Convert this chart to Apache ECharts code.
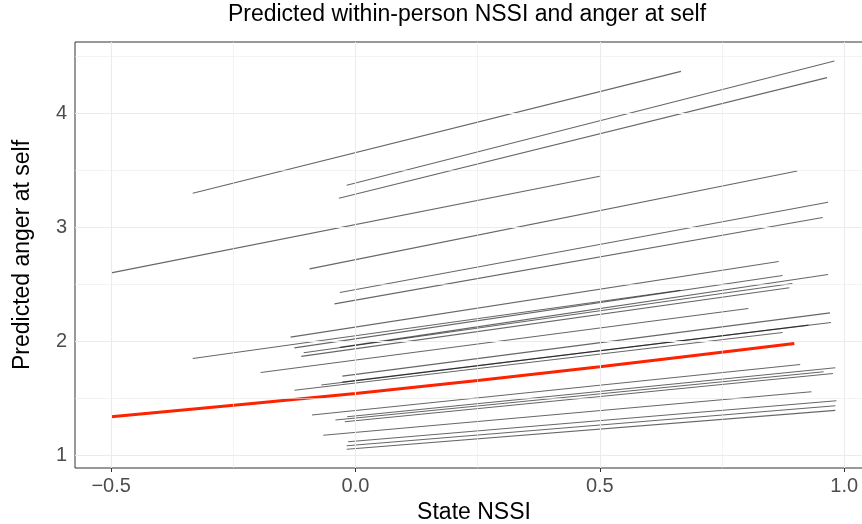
<!DOCTYPE html>
<html>
<head>
<meta charset="utf-8">
<script src="https://cdn.jsdelivr.net/npm/echarts@6/dist/echarts.min.js"></script>
<style>html,body{margin:0;padding:0;background:#fff;}#c{width:862px;height:524px;}</style>
</head>
<body>
<div id="c"></div>
<script>
// Individual (within-person) predicted lines: start and end points
const startX = [-0.333, -0.018, -0.034, -0.5, -0.094, -0.032, -0.043, -0.133, -0.333, -0.125, -0.106, -0.111, -0.032, -0.194, -0.027, -0.125, -0.070, -0.027, -0.089, -0.041, -0.017, -0.022, -0.066, -0.015, -0.018, -0.018];
const startY = [3.298, 3.368, 3.254, 2.599, 2.634, 2.427, 2.327, 2.035, 1.848, 1.941, 1.898, 1.866, 1.945, 1.725, 1.693, 1.568, 1.614, 1.640, 1.351, 1.307, 1.336, 1.292, 1.173, 1.117, 1.082, 1.050];
const endX   = [0.666, 0.980, 0.965, 0.500, 0.904, 0.967, 0.956, 0.866, 0.665, 0.874, 0.894, 0.888, 0.967, 0.804, 0.971, 0.874, 0.927, 0.973, 0.910, 0.958, 0.982, 0.977, 0.933, 0.984, 0.982, 0.982];
const endY   = [4.368, 4.459, 4.313, 3.447, 3.494, 3.219, 3.085, 2.699, 2.447, 2.576, 2.506, 2.468, 2.585, 2.287, 2.248, 2.076, 2.140, 2.164, 1.795, 1.731, 1.766, 1.716, 1.556, 1.477, 1.433, 1.392];
// Average (fixed-effect) predicted line
const redX = [-0.5, 0.0, 0.5, 0.898];
const redY = [1.336, 1.54, 1.775, 1.98];
// Axis ticks
const xTicks = [-0.5, 0.0, 0.5, 1.0];
const xMinor = [-0.25, 0.25, 0.75];
const yTicks = [1, 2, 3, 4];
const yMinor = [1.5, 2.5, 3.5, 4.5];

const chart = echarts.init(document.getElementById('c'), null, {renderer: 'canvas'});
const FONT = 'Liberation Sans, Arial, sans-serif';

const gridMarks = [];
xTicks.forEach(v => gridMarks.push({xAxis: v, lineStyle: {color: '#EBEBEB', width: 1.1, type: 'solid'}}));
xMinor.forEach(v => gridMarks.push({xAxis: v, lineStyle: {color: '#EBEBEB', width: 0.6, type: 'solid'}}));
yTicks.forEach(v => gridMarks.push({yAxis: v, lineStyle: {color: '#EBEBEB', width: 1.1, type: 'solid'}}));
yMinor.forEach(v => gridMarks.push({yAxis: v, lineStyle: {color: '#EBEBEB', width: 0.6, type: 'solid'}}));

const series = [{
  type: 'line', data: [], z: 1, silent: true,
  markLine: {silent: true, symbol: 'none', label: {show: false}, animation: false, data: gridMarks}
}];
for (let i = 0; i < startX.length; i++) {
  series.push({
    type: 'line', z: 2, silent: true, symbol: 'none', animation: false,
    data: [[startX[i], startY[i]], [endX[i], endY[i]]],
    lineStyle: {color: 'rgba(0,0,0,0.6)', width: 1.1}
  });
}
series.push({
  type: 'line', z: 3, silent: true, symbol: 'none', animation: false, smooth: 0.3,
  data: redX.map((x, i) => [x, redY[i]]),
  lineStyle: {color: '#FF2200', width: 3}
});

chart.setOption({
  animation: false,
  backgroundColor: '#fff',
  grid: {left: 75, top: 42, width: 798, height: 426, outerBoundsMode: 'none', containLabel: false,
    show: true, borderColor: '#333333', borderWidth: 1, backgroundColor: 'transparent'},
  graphic: [
    {type: 'text', x: 467, y: 15, style: {text: 'Predicted within-person NSSI and anger at self', font: '23px ' + FONT, fill: '#000', textAlign: 'center', textVerticalAlign: 'middle'}}
  ],
  xAxis: {
    type: 'value', min: -0.574, max: 1.059,
    name: 'State NSSI', nameLocation: 'middle', nameGap: 32,
    nameTextStyle: {fontFamily: FONT, fontSize: 23, color: '#000'},
    axisLine: {show: false},
    splitLine: {show: false},
    axisTick: {show: true, customValues: xTicks, length: 4, lineStyle: {color: '#333333', width: 1}},
    axisLabel: {customValues: xTicks, fontFamily: FONT, fontSize: 20, color: '#4D4D4D', margin: 8,
      formatter: v => (v < 0 ? '\u2212' : '') + Math.abs(v).toFixed(1)}
  },
  yAxis: {
    type: 'value', min: 0.886, max: 4.626,
    name: 'Predicted anger at self', nameLocation: 'middle', nameGap: 41, nameRotate: 90,
    nameTextStyle: {fontFamily: FONT, fontSize: 23, color: '#000'},
    axisLine: {show: false},
    splitLine: {show: false},
    axisTick: {show: true, customValues: yTicks, length: 4, lineStyle: {color: '#333333', width: 1}},
    axisLabel: {customValues: yTicks, fontFamily: FONT, fontSize: 20, color: '#4D4D4D', margin: 8,
      formatter: v => String(v)}
  },
  series: series
});
</script>
</body>
</html>
